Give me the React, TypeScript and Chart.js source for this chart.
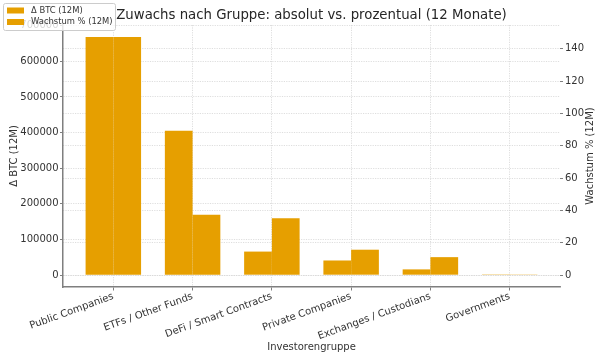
import React, { useEffect, useRef } from 'react';
import { Chart, registerables } from 'chart.js';

Chart.register(...registerables);

// ---- data ----
const groups = [
  'Public Companies',
  'ETFs / Other Funds',
  'DeFi / Smart Contracts',
  'Private Companies',
  'Exchanges / Custodians',
  'Governments',
];
const btcDelta = [668600, 405000, 66000, 41000, 16000, 200];
const growthPct = [147.3, 37.3, 35.2, 15.7, 11.1, 0.1];
const leftTicks = [0, 100000, 200000, 300000, 400000, 500000, 600000, 700000];
const rightTicks = [0, 20, 40, 60, 80, 100, 120, 140];
const seriesLabels = ['Δ BTC (12M)', 'Wachstum % (12M)'];
const titleText = 'Zuwachs nach Gruppe: absolut vs. prozentual (12 Monate)';
const xTitle = 'Investorengruppe';
const yLeftTitle = 'Δ BTC (12M)';
const yRightTitle = 'Wachstum % (12M)';

const FONT = 'DejaVu Sans';
const BAR = '#E69F00';
const TXT = '#333333';
const SPINE = '#7f7f7f';
const GRID = '#d6d6d6';

const decorPlugin = {
  id: 'decor',
  afterDraw(chart: any) {
    const ctx = chart.ctx;
    const a = chart.chartArea;
    const midX = (a.left + a.right) / 2;
    const midY = (a.top + a.bottom) / 2;
    ctx.save();
    ctx.fillStyle = '#262626';
    ctx.textAlign = 'center';
    ctx.textBaseline = 'middle';
    ctx.font = `13.3px "${FONT}"`;
    ctx.fillText(titleText, midX, 15.5);

    ctx.fillStyle = TXT;
    ctx.font = `10px "${FONT}"`;
    ctx.fillText(xTitle, midX, 347.5);

    ctx.save();
    ctx.translate(14, midY);
    ctx.rotate(-Math.PI / 2);
    ctx.fillText(yLeftTitle, 0, 0);
    ctx.restore();

    ctx.save();
    ctx.translate(590, midY);
    ctx.rotate(-Math.PI / 2);
    ctx.fillText(yRightTitle, 0, 0);
    ctx.restore();

    // legend
    ctx.beginPath();
    ctx.roundRect(3.5, 3.5, 112, 27, 2);
    ctx.fillStyle = 'rgba(255,255,255,0.8)';
    ctx.fill();
    ctx.strokeStyle = '#cccccc';
    ctx.lineWidth = 1;
    ctx.stroke();
    ctx.font = `8.4px "${FONT}"`;
    ctx.textAlign = 'left';
    seriesLabels.forEach((lab, i) => {
      const y = 10.5 + i * 11.5;
      ctx.fillStyle = BAR;
      ctx.fillRect(7, y - 3, 17, 6);
      ctx.fillStyle = TXT;
      ctx.fillText(lab, 31, y);
    });
    ctx.restore();
  },
};

export default function App() {
  const ref = useRef<HTMLCanvasElement | null>(null);

  useEffect(() => {
    if (!ref.current) return;
    const tickFont = { family: FONT, size: 10 };
    const chart = new Chart(ref.current, {
      type: 'bar',
      data: {
        datasets: [
          {
            label: seriesLabels[0],
            data: btcDelta.map((v, i) => ({ x: i, y: v })),
            backgroundColor: BAR,
            borderWidth: 0,
            yAxisID: 'y',
          },
          {
            label: seriesLabels[1],
            data: growthPct.map((v, i) => ({ x: i, y: v })),
            backgroundColor: BAR,
            borderWidth: 0,
            yAxisID: 'y1',
          },
        ],
      },
      options: {
        animation: false,
        responsive: false,
        devicePixelRatio: 1,
        layout: { padding: { top: 25, left: 0, right: 0, bottom: 0 } },
        plugins: {
          legend: { display: false },
          title: { display: false },
          tooltip: { enabled: false },
        },
        datasets: { bar: { categoryPercentage: 0.7, barPercentage: 1.0 } },
        scales: {
          x: {
            type: 'linear',
            min: -0.635,
            max: 5.635,
            offset: false,
            afterBuildTicks: (s: any) => {
              s.ticks = groups.map((_, i) => ({ value: i }));
            },
            afterFit: (s: any) => {
              s.height = 76;
            },
            ticks: {
              autoSkip: false,
              minRotation: 20,
              maxRotation: 20,
              padding: 0,
              color: TXT,
              font: tickFont,
              callback: (v: any) => groups[Math.round(Number(v))] ?? '',
            },
            grid: {
              offset: false,
              color: GRID,
              lineWidth: 0.8,
              drawTicks: true,
              tickLength: 3.5,
              tickColor: SPINE,
              tickWidth: 1,
            },
            border: { display: true, color: SPINE, width: 1.5, dash: [1.2, 1.2] },
          },
          y: {
            type: 'linear',
            position: 'left',
            min: -33430,
            max: 702030,
            afterBuildTicks: (s: any) => {
              s.ticks = leftTicks.map((v) => ({ value: v }));
            },
            afterFit: (s: any) => {
              s.width = 63;
            },
            ticks: {
              color: TXT,
              font: tickFont,
              padding: 1.5,
              callback: (v: any) => String(v),
            },
            grid: {
              color: GRID,
              lineWidth: 0.8,
              drawTicks: true,
              tickLength: 3,
              tickColor: SPINE,
              tickWidth: 1,
            },
            border: { display: true, color: SPINE, width: 1.5, dash: [1.2, 1.2] },
          },
          y1: {
            type: 'linear',
            position: 'right',
            min: -7.37,
            max: 154.7,
            afterBuildTicks: (s: any) => {
              s.ticks = rightTicks.map((v) => ({ value: v }));
            },
            afterFit: (s: any) => {
              s.width = 45;
            },
            ticks: {
              color: TXT,
              font: tickFont,
              padding: 2,
              callback: (v: any) => String(v),
            },
            grid: {
              color: GRID,
              lineWidth: 0.8,
              drawTicks: true,
              tickLength: 3,
              tickColor: SPINE,
              tickWidth: 1,
            },
            border: { display: false, dash: [1.2, 1.2] },
          },
        },
      } as any,
      plugins: [decorPlugin],
    });
    return () => chart.destroy();
  }, []);

  return (
    <div style={{ position: 'fixed', left: 0, top: 0, width: 605, height: 363, background: '#fff' }}>
      <canvas ref={ref} width={605} height={363} style={{ width: 605, height: 363 }} />
    </div>
  );
}
